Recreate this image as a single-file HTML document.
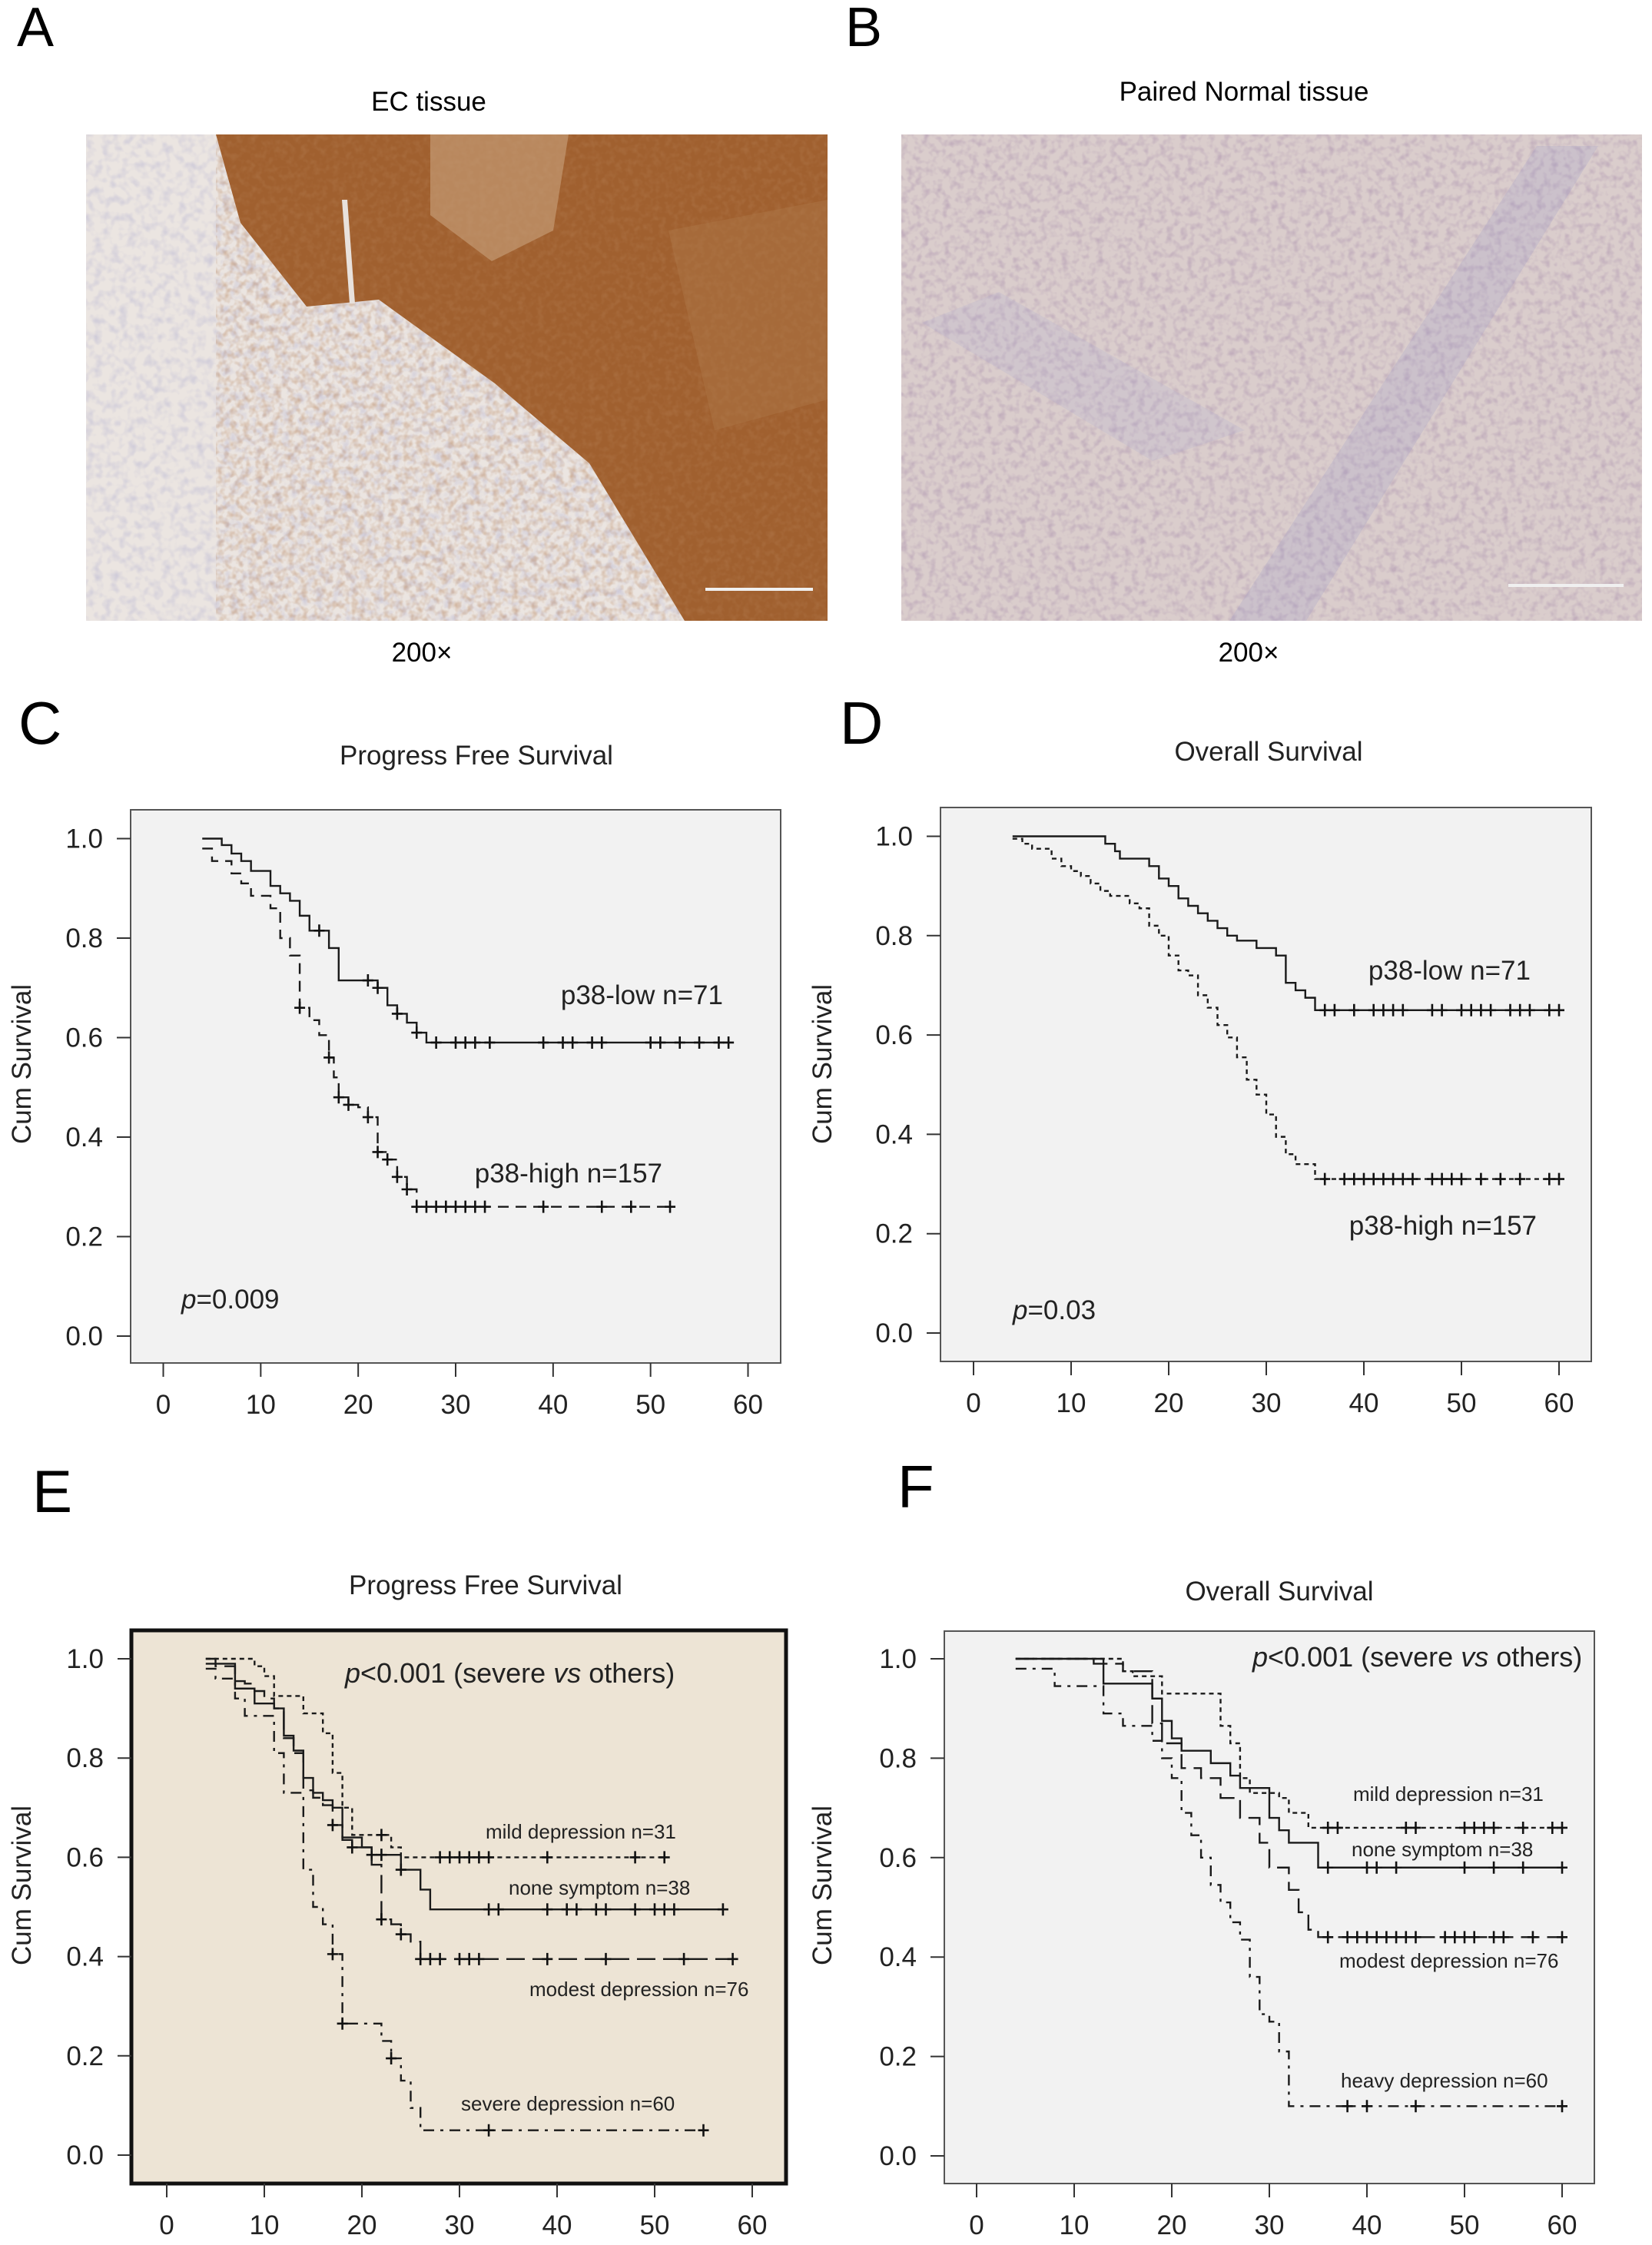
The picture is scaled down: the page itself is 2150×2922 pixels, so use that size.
<!DOCTYPE html>
<html><head><meta charset="utf-8"><title>p38 IHC and survival</title>
<style>
html,body{margin:0;padding:0;background:#fff;}
svg{display:block;font-family:"Liberation Sans",Arial,sans-serif;}
</style></head>
<body>
<svg id="fig" width="2150" height="2922" viewBox="0 0 2150 2922" xmlns="http://www.w3.org/2000/svg">
<defs>
<filter id="texA" x="0" y="0" width="100%" height="100%">
<feTurbulence type="fractalNoise" baseFrequency="0.09" numOctaves="2" seed="3"/>
<feColorMatrix type="matrix" values="0 0 0 0 0.35  0 0 0 0 0.35  0 0 0 0 0.6  0 0 0 -2.2 1.25"/>
</filter>
<filter id="texB" x="0" y="0" width="100%" height="100%">
<feTurbulence type="fractalNoise" baseFrequency="0.11" numOctaves="2" seed="8"/>
<feColorMatrix type="matrix" values="0 0 0 0 0.45  0 0 0 0 0.33  0 0 0 0 0.45  0 0 0 -2.4 1.35"/>
</filter>
<filter id="texBr" x="0" y="0" width="100%" height="100%">
<feTurbulence type="fractalNoise" baseFrequency="0.12" numOctaves="2" seed="5"/>
<feColorMatrix type="matrix" values="0 0 0 0 0.45  0 0 0 0 0.2  0 0 0 0 0.08  0 0 0 -2 1.2"/>
</filter>
<clipPath id="clipA"><rect x="112" y="175" width="965" height="633"/></clipPath>
<clipPath id="clipB"><rect x="1173" y="175" width="964" height="633"/></clipPath>
</defs>

<text x="22" y="60" font-size="72">A</text>
<text x="1100" y="60" font-size="72">B</text>
<text x="558" y="144" font-size="35" text-anchor="middle">EC tissue</text>
<text x="1619" y="131" font-size="35" text-anchor="middle">Paired Normal tissue</text>

<g clip-path="url(#clipA)">
<rect x="112" y="175" width="965" height="633" fill="#ebe5e1"/>
<rect x="112" y="175" width="965" height="633" filter="url(#texA)" opacity="0.35"/>
<polygon points="281,175 1077,175 1077,808 891,808 767,603 644,499 493,390 399,399 313,290" fill="#a0602f"/>
<polygon points="281,175 1077,175 1077,808 891,808 767,603 644,499 493,390 399,399 313,290" filter="url(#texBr)" opacity="0.45"/>
<polygon points="560,175 740,175 720,300 640,340 560,280" fill="#c9a37e" opacity="0.6"/>
<polygon points="870,300 1077,260 1077,520 930,560" fill="#b07a4a" opacity="0.4"/>
<polygon points="445,260 452,260 462,395 455,395" fill="#e8e1dc"/>
<rect x="918" y="765" width="140" height="4" fill="#f0f0f0"/>
</g>

<g clip-path="url(#clipB)">
<rect x="1173" y="175" width="964" height="633" fill="#dacdcc"/>
<rect x="1173" y="175" width="964" height="633" filter="url(#texB)" opacity="0.6"/>
<polygon points="1600,808 1700,808 2080,190 2000,190" fill="#8f8fc8" opacity="0.2"/>
<polygon points="1200,420 1500,600 1620,560 1300,380" fill="#a8a8d0" opacity="0.18"/>
<rect x="1963" y="760" width="150" height="4" fill="#f0f0f0"/>
</g>

<text x="549" y="861" font-size="35" text-anchor="middle">200×</text>
<text x="1625" y="861" font-size="35" text-anchor="middle">200×</text>

<text x="24" y="968" font-size="78">C</text>
<text x="1093" y="968" font-size="78">D</text>
<text x="42" y="1968" font-size="78">E</text>
<text x="1168" y="1962" font-size="78">F</text>
</svg>

<script>
// ---------- Panel C: Progress Free Survival ----------
const cLowTime=[4,6,7,8,9,11,12,13,14,15,17,18,22,23,24,25,26,27];
const cLowSurv=[1,.987,.97,.955,.935,.905,.89,.875,.845,.815,.78,.715,.70,.665,.648,.63,.61,.59];
const cLowCensor=[16,21,22,24,26,28,30,31,32,33.5,39,41,42,44,45,50,51,53,55,57,58];
const cHighTime=[4,5,7,8,9,11,12,13,14,15,16,17,17.5,18,19,20,21,22,23,24,25,26];
const cHighSurv=[.98,.955,.93,.91,.885,.86,.80,.765,.66,.635,.605,.56,.52,.48,.465,.46,.44,.37,.355,.32,.295,.26];
const cHighCensor=[14,17,18,19,21,22,23,24,25,26,27,28,29,30,31,32,33,39,45,48,52];
// ---------- Panel D: Overall Survival ----------
const dLowTime=[4,13.5,14.5,15,18,19,20,21,22,23,24,25,26,27,29,31,32,33,34,35];
const dLowSurv=[1,.985,.97,.955,.94,.915,.90,.875,.86,.845,.83,.815,.80,.79,.775,.76,.705,.69,.675,.65];
const dLowCensor=[36,37,39,41,42,43,44,47,48,50,51,52,53,55,56,57,59,60];
const dHighTime=[4,5,6,8,9,10,11,12,13,14,16,17,18,19,20,21,22,23,24,25,26,27,28,29,30,31,32,33,35];
const dHighSurv=[.995,.985,.975,.955,.94,.93,.92,.905,.89,.88,.865,.855,.82,.80,.76,.73,.72,.68,.655,.62,.595,.555,.51,.48,.44,.395,.36,.34,.31];
const dHighCensor=[36,38,39,40,41,42,43,44,45,47,48,49,50,52,54,56,59,60];
// ---------- Panel E: PFS by depression ----------
const eMildTime=[4,9,10,11,14,16,17,18,19,23,24];
const eMildSurv=[1,.985,.965,.925,.89,.85,.77,.70,.645,.62,.60];
const eMildCensor=[22,28,29,30,31,32,33,39,48,51];
const eNoneTime=[4,7,9,11,12,13,14,15,16,17,18,20,21,24,26,27];
const eNoneSurv=[.99,.94,.91,.90,.845,.815,.76,.73,.715,.70,.64,.62,.605,.575,.535,.495];
const eNoneCensor=[21,22,24,33,34,39,41,42,44,45,48,50,51,52,57];
const eModestTime=[4,5,7,8,9,10,11,12,13,14,15,16,17,18,19,21,22,23,24,25,26];
const eModestSurv=[1,.985,.955,.95,.935,.92,.90,.84,.81,.735,.72,.705,.665,.635,.62,.585,.475,.465,.445,.43,.395];
const eModestCensor=[17,19,22,24,26,27,28,30,31,32,39,45,53,58];
const eSevereTime=[4,5,7,8,11,12,14,15,16,17,18,22,23,24,25,26];
const eSevereSurv=[.98,.96,.92,.885,.81,.73,.575,.50,.465,.405,.265,.23,.195,.15,.095,.05];
const eSevereCensor=[17,18,23,33,55];
// ---------- Panel F: OS by depression ----------
const fMildTime=[4,15,16,19,25,26,27,28,31,32,34];
const fMildSurv=[1,.975,.965,.93,.865,.83,.76,.73,.72,.69,.66];
const fMildCensor=[36,37,44,45,50,51,52,53,56,59,60];
const fNoneTime=[4,13,18,19,20,21,24,26,27,30,31,32,35];
const fNoneSurv=[1,.95,.92,.875,.84,.815,.79,.765,.74,.68,.655,.63,.58];
const fNoneCensor=[36,40,41,43,50,53,56,60];
const fModestTime=[4,12,15,18,19,21,23,25,27,29,30,32,33,34,35];
const fModestSurv=[1,.99,.975,.87,.83,.78,.76,.72,.68,.63,.58,.535,.49,.455,.44];
const fModestCensor=[36,38,39,40,41,42,43,44,45,48,49,50,51,53,54,57,60];
const fHeavyTime=[4,8,13,15,18,19,20,21,22,23,24,25,26,27,28,29,30,31,32];
const fHeavySurv=[.98,.945,.89,.865,.835,.80,.76,.69,.645,.60,.545,.51,.47,.435,.36,.285,.27,.21,.10];
const fHeavyCensor=[38,40,45,60];

const xTicks=[0,10,20,30,40,50,60];
const xTickLabels=["0","10","20","30","40","50","60"];
const yTicks=[0,0.2,0.4,0.6,0.8,1.0];
const yTickLabels=["0.0","0.2","0.4","0.6","0.8","1.0"];

const NS="http://www.w3.org/2000/svg";
const svg=document.getElementById('fig');
function mk(tag,attrs,parent){const e=document.createElementNS(NS,tag);for(const k in attrs)e.setAttribute(k,attrs[k]);(parent||svg).appendChild(e);return e;}
function txt(str,attrs,parent){const e=mk('text',attrs,parent);e.textContent=str;return e;}

function makePanel(id,cfg){
  const g=mk('g',{});
  
  
  const sx=m=>cfg.x0+m*(cfg.x60-cfg.x0)/60;
  const sy=v=>cfg.y0-v*(cfg.y0-cfg.y1);
  const bg=mk('rect',{x:cfg.l,y:cfg.t,width:cfg.r-cfg.l,height:cfg.b-cfg.t,fill:cfg.bg,stroke:cfg.border,'stroke-width':cfg.bw},g);
  
  
  const t=txt(cfg.title,{x:cfg.titleX,y:cfg.titleY,'font-size':35,'text-anchor':'middle',fill:'#222'},g);
  
  
  const yl=txt('Cum Survival',{x:0,y:0,'font-size':35,'text-anchor':'middle',fill:'#222',transform:'translate('+cfg.ylabX+','+cfg.ylabY+') rotate(-90)'},g);
  
  
  yTicks.forEach((v,i)=>{
    const tk=mk('line',{x1:cfg.l-18,x2:cfg.l,y1:sy(v),y2:sy(v),stroke:'#333','stroke-width':2},g);
    
    
    const lb=txt(yTickLabels[i],{x:cfg.l-36,y:sy(v)+12,'font-size':35,'text-anchor':'end',fill:'#222'},g);
    
    
  });
  xTicks.forEach((m,i)=>{
    const tk=mk('line',{x1:sx(m),x2:sx(m),y1:cfg.b,y2:cfg.b+18,stroke:'#333','stroke-width':2},g);
    
    
    const lb=txt(xTickLabels[i],{x:sx(m),y:cfg.b+66,'font-size':35,'text-anchor':'middle',fill:'#222'},g);
    
    
  });
  cfg.series.forEach(s=>{
    const T=s.time,S=s.surv,C=s.censor;
    const end=Math.max(T[T.length-1],C.length?C[C.length-1]:0);
    let d='M'+sx(T[0])+' '+sy(S[0]);
    for(let i=1;i<T.length;i++){d+=' H'+sx(T[i])+' V'+sy(S[i]);}
    d+=' H'+sx(end);
    const p=mk('path',{d:d,fill:'none',stroke:'#1a1a1a','stroke-width':2.4,'stroke-dasharray':s.dash||'none'},g);
    
    
    C.forEach(c=>{
      let v=S[0];for(let i=0;i<T.length;i++){if(T[i]<=c)v=S[i];}
      const x=sx(c),y=sy(v);
      const cm=mk('path',{d:'M'+(x-7)+' '+y+' H'+(x+7)+' M'+x+' '+(y-8)+' V'+(y+8),stroke:'#111','stroke-width':2.6,fill:'none'},g);
      
      
    });
  });
  cfg.labels.forEach(L=>{
    const e=mk('text',{x:L.x,y:L.y,'font-size':L.size,'text-anchor':L.anchor||'start',fill:'#222'},g);
    if(L.html){e.innerHTML=L.html;}else{e.textContent=L.text;}
    
    
  });
}

makePanel('pfs-p38',{l:170,t:1054,r:1016,b:1774,x0:212.5,x60:973.5,y1:1091.5,y0:1739,bg:'#f2f2f2',border:'#555',bw:2,
  title:'Progress Free Survival',titleX:620,titleY:995,ylabX:40,ylabY:1385,
  series:[{name:'p38-low',time:cLowTime,surv:cLowSurv,censor:cLowCensor,dash:''},
          {name:'p38-high',time:cHighTime,surv:cHighSurv,censor:cHighCensor,dash:'14 9'}],
  labels:[{name:'label-low',text:'p38-low n=71',x:941,y:1307,size:35,anchor:'end'},
          {name:'label-high',text:'p38-high n=157',x:862,y:1539,size:35,anchor:'end'},
          {name:'p-value',html:'<tspan font-style="italic">p</tspan>=0.009',x:236,y:1703,size:35}]});

makePanel('os-p38',{l:1224,t:1051,r:2071,b:1772,x0:1267,x60:2029,y1:1088.5,y0:1735,bg:'#f2f2f2',border:'#555',bw:2,
  title:'Overall Survival',titleX:1651,titleY:990,ylabX:1082,ylabY:1385,
  series:[{name:'p38-low',time:dLowTime,surv:dLowSurv,censor:dLowCensor,dash:''},
          {name:'p38-high',time:dHighTime,surv:dHighSurv,censor:dHighCensor,dash:'6 5'}],
  labels:[{name:'label-low',text:'p38-low n=71',x:1992,y:1275,size:35,anchor:'end'},
          {name:'label-high',text:'p38-high n=157',x:2000,y:1607,size:35,anchor:'end'},
          {name:'p-value',html:'<tspan font-style="italic">p</tspan>=0.03',x:1318,y:1717,size:35}]});

makePanel('pfs-depression',{l:171,t:2122,r:1023,b:2842,x0:217,x60:979,y1:2159,y0:2805,bg:'#ede4d5',border:'#111',bw:5,
  title:'Progress Free Survival',titleX:632,titleY:2075,ylabX:40,ylabY:2454,
  series:[{name:'mild',time:eMildTime,surv:eMildSurv,censor:eMildCensor,dash:'6 5'},
          {name:'none',time:eNoneTime,surv:eNoneSurv,censor:eNoneCensor,dash:''},
          {name:'modest',time:eModestTime,surv:eModestSurv,censor:eModestCensor,dash:'24 10'},
          {name:'severe',time:eSevereTime,surv:eSevereSurv,censor:eSevereCensor,dash:'14 8 4 8'}],
  labels:[{name:'p-value',html:'<tspan font-style="italic">p</tspan>&lt;0.001 (severe <tspan font-style="italic">vs</tspan> others)',x:449,y:2190,size:36},
          {name:'label-mild',text:'mild depression n=31',x:632,y:2393,size:26},
          {name:'label-none',text:'none symptom n=38',x:662,y:2466,size:26},
          {name:'label-modest',text:'modest depression n=76',x:689,y:2598,size:26},
          {name:'label-severe',text:'severe depression n=60',x:600,y:2747,size:26}]});

makePanel('os-depression',{l:1229,t:2123,r:2075,b:2842,x0:1271,x60:2033,y1:2159,y0:2806,bg:'#f2f2f2',border:'#555',bw:2,
  title:'Overall Survival',titleX:1665,titleY:2083,ylabX:1082,ylabY:2454,
  series:[{name:'mild',time:fMildTime,surv:fMildSurv,censor:fMildCensor,dash:'6 5'},
          {name:'none',time:fNoneTime,surv:fNoneSurv,censor:fNoneCensor,dash:''},
          {name:'modest',time:fModestTime,surv:fModestSurv,censor:fModestCensor,dash:'24 10'},
          {name:'heavy',time:fHeavyTime,surv:fHeavySurv,censor:fHeavyCensor,dash:'14 8 4 8'}],
  labels:[{name:'p-value',html:'<tspan font-style="italic">p</tspan>&lt;0.001 (severe <tspan font-style="italic">vs</tspan> others)',x:1630,y:2169,size:36},
          {name:'label-mild',text:'mild depression n=31',x:1761,y:2344,size:26},
          {name:'label-none',text:'none symptom n=38',x:1759,y:2416,size:26},
          {name:'label-modest',text:'modest depression n=76',x:1743,y:2561,size:26},
          {name:'label-heavy',text:'heavy depression n=60',x:1745,y:2717,size:26}]});
</script>
</body></html>
